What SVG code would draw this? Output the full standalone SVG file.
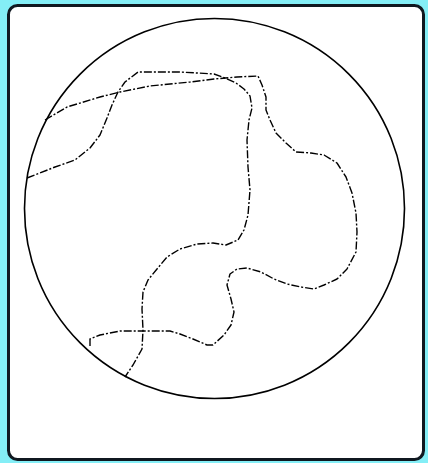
<svg xmlns="http://www.w3.org/2000/svg" width="428" height="463" viewBox="0 0 428 463">
  <style>
    .frame { fill: #ffffff; stroke: #101820; stroke-width: 3; }
    .outline { fill: none; stroke: #000000; stroke-width: 1.6; }
    .route { fill: none; stroke: #000000; stroke-width: 1.4; stroke-dasharray: 8 2 2 2; stroke-linejoin: round; stroke-linecap: butt; }
  </style>
  <rect x="0" y="0" width="428" height="463" fill="#84eef6"/>
  <rect class="frame" x="8.5" y="5.5" width="415" height="454" rx="9"/>
  <circle class="outline" cx="214.5" cy="208.5" r="190"/>
  <polyline class="route" points="27,178 40,173 55,167 75,160 90,148 100,135 107,118 112,105 118,92 125,82 138,72 180,72 214,74 225,78 236,83 244,89 250,96 252,108 249,120 247,140 248,167 250,190 248,215 244,230 238,240 226,245 213,243 197,244 180,249 167,257 157,269 148,280 143,292 142,309 143,330 142,349 133,365 125,377"/>
  <polyline class="route" points="45,120 67,107 100,97 120,92 150,86 190,82 214,79 237,77 258,76 262,85 266,97 266,110 270,120 276,133 286,143 296,152 311,153 324,155 337,163 346,177 352,193 356,213 357,232 356,252 347,269 337,279 324,285 314,289 301,287 287,284 274,279 261,272 247,268 237,269 230,274 227,285 231,299 234,312 231,325 224,335 213,345 207,345 193,339 180,334 170,331 147,331 120,331 100,335 90,339 90,347"/>
</svg>
